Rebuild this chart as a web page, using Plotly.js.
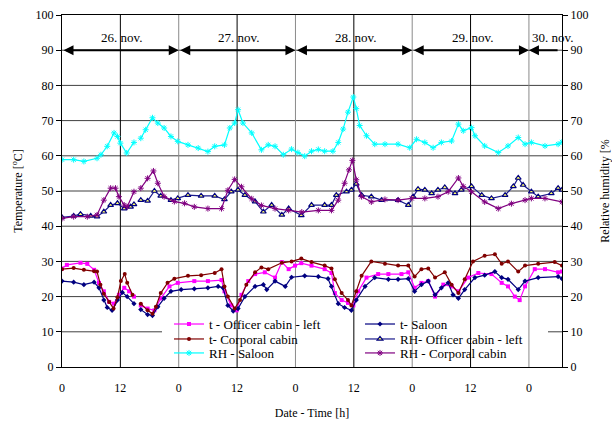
<!DOCTYPE html>
<html>
<head>
<meta charset="utf-8">
<script src="https://cdn.plot.ly/plotly-3.0.1.min.js"></script>
<style>html,body{margin:0;padding:0;background:#fff;}#chart{width:612px;height:424px;}</style>
</head>
<body>
<div id="chart"></div>
<script>
// ---- Data (time in hours from 26 Nov 00:00) ----
const dayLabels = ["26. nov.", "27. nov.", "28. nov.", "29. nov.", "30. nov."];
const dayStarts = [0, 24, 48, 72, 96];
const xTickVals = [0, 12, 24, 36, 48, 60, 72, 84, 96];
const xTickText = ["0", "12", "0", "12", "0", "12", "0", "12", "0"];
const yTickVals = [0, 10, 20, 30, 40, 50, 60, 70, 80, 90, 100];

const tOfficerX = [0,1,3.8,5.2,6.6,7.6,8.6,9.7,10.7,11.7,12.8,13.8,14.8,15.5,16.2,17.6,19,20.3,22.1,23.8,27.2,30,32.8,33.4,34.8,35.9,36.9,38.3,39.7,41.7,43.8,45.2,46.6,47.9,49.2,51.3,54,55.4,56.1,57.5,58.8,59.9,60.9,62.6,65,67.1,69.8,71.2,72.5,73.9,75.3,76.7,78.4,80.1,81.5,83.5,85.6,88.3,90.4,91.7,93.1,94.1,95.2,97.2,99.3,102,102.8];
const tOfficerY = [28,29,29.6,29.3,27.6,23.9,21.5,18.5,18,20.5,22.5,21.5,20,null,17.5,16.6,16.1,19.5,22.9,23.9,24.4,24.4,24.7,21.5,17.5,16.1,20.5,24.4,26.4,26.9,25.4,29.8,27.8,28.8,29.5,28.8,27.8,26.7,21,19,18.2,17.5,21.5,25.4,26.4,26.4,26.4,26.9,22.5,23.9,24.4,20,23.4,22.9,21.5,25.4,26.7,26.4,23.9,22.9,20,19,22.9,27.8,27.8,26.9,27.1];

const tSaloonX = [0,2.4,4.5,6.6,7.6,8.6,9.3,10.3,11.4,12.4,13.4,14.8,15.5,16.2,17.6,18.6,19.7,21,22.4,24.5,27.2,30,32.1,33.1,34.1,35.2,36.2,37.6,39.7,41.4,42.1,43.8,45.9,47.2,49.9,52.7,54.7,55.4,56.8,58.1,59.5,60.5,62.3,64.3,67.1,69.1,71.2,72.5,73.9,75.3,76.7,78,79.4,80.4,81.5,82.8,84.9,86.9,89,90.4,91.7,93.8,95.2,97.9,102,102.8];
const tSaloonY = [24.4,24.1,23.4,24.1,22.5,19,16.9,16.1,19,21.2,20,18,null,16.3,14.9,14.6,17.1,19.5,21.5,22,22.2,22.5,22.9,22.5,17.5,15.9,16.6,20,22.9,23.4,22,24.4,22.9,25.5,25.9,25.7,25.1,22.9,18,16.9,16.1,19,22.9,25.4,24.9,24.9,25.1,21.5,23.4,24.4,20.5,22.5,23.9,20.5,19.5,22,25.4,26.1,27.1,25.4,24.9,22,24.4,25.4,25.7,25.1];

const tCorporalX = [0,2.4,4.5,6.6,7.2,7.9,8.6,9.7,10.6,11.4,12.1,12.9,13.4,14.5,15.5,16.2,17.6,18.6,19.3,20.3,21.7,23.1,25.9,28.6,31.4,32.8,33.4,34.1,35.5,36.6,37.9,39.7,41,42.4,45.2,47.2,49.2,51.3,54,55.4,56.1,57.5,58.8,59.5,60.5,61.6,63.6,66.4,69.1,71.2,72.5,73.9,75.3,76.7,78.7,80.1,81.5,82.8,84.5,86.9,89,90.4,91.7,93.8,95.2,97.9,101.3,102.8];
const tCorporalY = [27.8,28.1,27.6,27.2,27.1,23.4,20.8,18.5,16.6,19.8,24.4,26.4,23.9,20.5,null,18,16.1,15.1,17.1,21,23.9,25.1,25.9,26.1,26.7,27.8,22.9,20,16.6,19,23.4,26.9,28.3,27.8,29.6,30,30.8,29.8,28.8,28,24.9,21,19,17.5,21.5,25.9,30,29.3,28.8,28.8,25.7,27.8,28,25.4,26.9,23.4,21,24.9,30,31.6,32,29.3,30,27.1,28.8,29.3,29.8,28.8];

const rhOfficerX = [0,2.4,3.8,5.9,7.2,8.6,10,11.4,12.8,14.1,14.8,15.5,16.2,17.6,19,20.3,22.4,23.8,25.9,28.6,31.4,33.4,34.8,36.2,37.6,39.7,41.4,43.1,45.2,46.6,49.2,51.3,54,55.4,56.4,58.5,59.5,60.5,61.6,63.6,65.7,69.1,71.2,72.2,73.2,74.6,76,77.3,78.7,80.8,82.1,84.2,86.3,88.3,91.1,92.8,93.8,94.8,96.5,97.9,100.6,102,102.8];
const rhOfficerY = [42.5,42.9,43.4,42.9,42.7,44.1,46,46.5,45,45.5,46.2,null,47.4,47.2,50,48.6,47.4,47.9,48.8,48.6,48.6,47.6,49.8,50.3,48.8,47,44.1,46,43.2,45,43.1,46,46,46,48.8,49.8,50.3,52,48.8,48.4,47.4,47.4,46,48.4,50.5,50.3,49.3,50.3,51,49.3,50.3,51.3,48.8,47.9,48.8,51.3,53.7,51.7,49.8,48.4,49.3,50.8,50.3];

const rhSaloonX = [0,2.4,4.5,7.2,8,9.3,10.7,11.4,12,13.3,14.8,15.5,16.2,17.2,18.6,19.7,21,22.4,23.8,25.9,28,30,31.4,33.4,34.5,35.5,36.2,37.2,39,41,42.4,43.8,45.5,47.2,48.5,49.9,51.3,52.7,54,55.7,56.8,57.8,58.8,59.9,60.5,61.2,62.6,64.3,66.4,69.1,71.5,72.9,74.6,76.3,78,80.1,81.5,82.5,84.2,84.9,86.9,89.7,91.7,93.8,95.2,96.5,99.3,102,102.8];
const rhSaloonY = [58.9,58.9,58.4,59.3,60.3,62.7,66.5,65.5,63.6,60.8,63.8,null,65,67.4,70.8,69.3,67.9,65.5,64.1,63.1,62.2,61.2,62.7,63.1,67.9,69.3,73.1,69.3,66.5,61.7,63.1,62.7,60.3,61.9,60.9,59.9,61.3,61.8,61.3,61.3,63.8,67.6,72.4,76.7,73.4,68.6,65.7,63.3,63.3,63.3,62.3,64.7,63.8,62.3,63.8,64.2,69,67.1,68,65.7,62.8,60.9,62.8,65.2,63.3,63.8,62.8,63.3,63.9];

const rhCorporalX = [0,2.4,5.2,7.2,8.6,10,11,11.7,12.8,13.4,14.8,15.5,16.2,17.6,18.8,19.7,21,23.1,25.2,27.2,30,32.8,34.1,35.5,36.9,39,41,43.8,46.6,49.3,52.7,55.4,56.8,58.1,59,59.7,60.5,61.6,63.6,66.4,69.1,71.9,74.6,77.3,79.4,81.5,82.5,84.2,86.9,89.7,92.4,95.2,96.5,99.3,102.8];
const rhCorporalY = [42.2,42.7,42.7,43.2,47.4,50.8,50.8,48.4,46,45.5,49.8,null,50.8,53.6,55.7,52.2,48.4,47,46.5,45.5,45,45,50.2,53.3,51.2,47.8,45.9,45,44.5,44,44.5,44.5,47.4,52.2,56,58.7,53.2,48.4,46.9,47.6,47.4,47.9,47.9,48.4,49.8,53.7,51.3,49.8,46.9,45,46.4,47.4,47.9,47.9,46.9];

const seriesNames = ["t - Officer cabin - left", "t- Saloon", "t- Corporal cabin", "RH- Officer cabin - left", "RH - Saloon", "RH - Corporal cabin"];

// ---- Styling ----
const serif = "'Liberation Serif', 'Times New Roman', Times, serif";
const X_END = 102.8;

function mk(name, x, y, yaxis, color, marker, legend) {
  return {
    type: "scatter", mode: "lines+markers", name: name, x: x, y: y, yaxis: yaxis,
    connectgaps: false, legend: legend,
    line: {color: color, width: 1.2},
    marker: marker
  };
}

const traces = [
  mk(seriesNames[0], tOfficerX, tOfficerY, "y", "#FF00FF", {symbol: "square", size: 4, color: "#FF00FF"}, "legend"),
  mk(seriesNames[1], tSaloonX, tSaloonY, "y", "#000080", {symbol: "diamond", size: 4, color: "#000080"}, "legend2"),
  mk(seriesNames[2], tCorporalX, tCorporalY, "y", "#800000", {symbol: "circle", size: 4, color: "#800000"}, "legend3"),
  mk(seriesNames[3], rhOfficerX, rhOfficerY, "y2", "#1a1a8c", {symbol: "triangle-up", size: 5, color: "#FFFF66", line: {color: "#000080", width: 1.2}}, "legend4"),
  mk(seriesNames[4], rhSaloonX, rhSaloonY, "y2", "#00FFFF", {symbol: "asterisk-open", size: 5, color: "#00FFFF", line: {color: "#00FFFF", width: 1}}, "legend5"),
  mk(seriesNames[5], rhCorporalX, rhCorporalY, "y2", "#800080", {symbol: "asterisk-open", size: 5, color: "#800080", line: {color: "#800080", width: 1}}, "legend6")
];

// gridlines as shapes
const shapes = [];
for (const v of yTickVals) {
  if (v === 0 || v === 100) continue;
  if (v === 10) {
    shapes.push({type: "line", layer: "below", xref: "paper", yref: "y", x0: 0, x1: 0.2, y0: v, y1: v, line: {color: "#404040", width: 1}});
    shapes.push({type: "line", layer: "below", xref: "paper", yref: "y", x0: 0.972, x1: 1, y0: v, y1: v, line: {color: "#404040", width: 1}});
  } else {
    shapes.push({type: "line", layer: "below", xref: "paper", yref: "y", x0: 0, x1: 1, y0: v, y1: v, line: {color: "#404040", width: 1}});
  }
}
for (const v of xTickVals) {
  if (v === 0) continue;
  const noon = (v % 24) === 12;
  shapes.push({type: "line", layer: "below", xref: "x", yref: "paper", x0: v, x1: v, y0: 0, y1: 1,
    line: {color: noon ? "#000000" : "#8a8a8a", width: 1}});
}

// day arrows + labels
const annotations = [];
for (let i = 0; i < dayStarts.length; i++) {
  const s = dayStarts[i];
  const e = i < dayStarts.length - 1 ? dayStarts[i + 1] : X_END - 0.6;
  const last = i === dayStarts.length - 1;
  annotations.push({
    x: last ? s : e, y: 90, ax: last ? e : s, ay: 90, xref: "x", yref: "y", axref: "x", ayref: "y",
    showarrow: true, text: "", arrowhead: 2, arrowsize: 1, arrowwidth: 2, arrowcolor: "#000",
    arrowside: last ? "end" : "end+start", standoff: 0, startstandoff: 0
  });
  annotations.push({
    x: last ? s + 0.3 : s + 12.3, y: 93.6, xref: "x", yref: "y", showarrow: false,
    xanchor: last ? "left" : "center", yanchor: "middle",
    text: dayLabels[i], font: {family: serif, size: 13, color: "#000"}
  });
}

const legendBase = {orientation: "v", bgcolor: "rgba(0,0,0,0)", borderwidth: 0,
  font: {family: serif, size: 13, color: "#000"}, xanchor: "left", yanchor: "middle",
  itemclick: false, itemdoubleclick: false};
const colL = 0.214, colR = 0.596;
const rowY = [0.122, 0.0795, 0.0398];

const layout = {
  width: 612, height: 424,
  margin: {l: 62, r: 50, t: 15, b: 57},
  paper_bgcolor: "#fff", plot_bgcolor: "#fff",
  font: {family: serif, size: 12, color: "#000"},
  showlegend: true,
  xaxis: {
    range: [0, X_END], showgrid: false, zeroline: false,
    showline: true, linecolor: "#000", linewidth: 1, mirror: true,
    tickmode: "array", tickvals: xTickVals, ticktext: xTickText, ticks: "",
    ticklabelstandoff: 10,
    tickfont: {family: serif, size: 12, color: "#000"},
    title: {text: "Date - Time [h]", font: {family: serif, size: 12, color: "#000"}, standoff: 14}
  },
  yaxis: {
    range: [0, 100], showgrid: false, zeroline: false,
    showline: true, linecolor: "#000", linewidth: 1,
    tickmode: "array", tickvals: yTickVals, ticks: "outside", ticklen: 5, tickcolor: "#000",
    tickfont: {family: serif, size: 12, color: "#000"},
    title: {text: "Temperature [<sup>o</sup>C]", font: {family: serif, size: 12, color: "#000"}, standoff: 10}
  },
  yaxis2: {
    range: [0, 100], overlaying: "y", side: "right", showgrid: false, zeroline: false,
    showline: true, linecolor: "#000", linewidth: 1,
    tickmode: "array", tickvals: yTickVals, ticks: "outside", ticklen: 5, tickcolor: "#000",
    tickfont: {family: serif, size: 12, color: "#000"},
    title: {text: "Relative humidity [%", font: {family: serif, size: 12, color: "#000"}, standoff: 16}
  },
  legend:  Object.assign({}, legendBase, {x: colL, y: rowY[0]}),
  legend2: Object.assign({}, legendBase, {x: colR, y: rowY[0]}),
  legend3: Object.assign({}, legendBase, {x: colL, y: rowY[1]}),
  legend4: Object.assign({}, legendBase, {x: colR, y: rowY[1]}),
  legend5: Object.assign({}, legendBase, {x: colL, y: rowY[2]}),
  legend6: Object.assign({}, legendBase, {x: colR, y: rowY[2]}),
  shapes: shapes,
  annotations: annotations
};

Plotly.newPlot("chart", traces, layout, {staticPlot: true, displayModeBar: false});
</script>
</body>
</html>
